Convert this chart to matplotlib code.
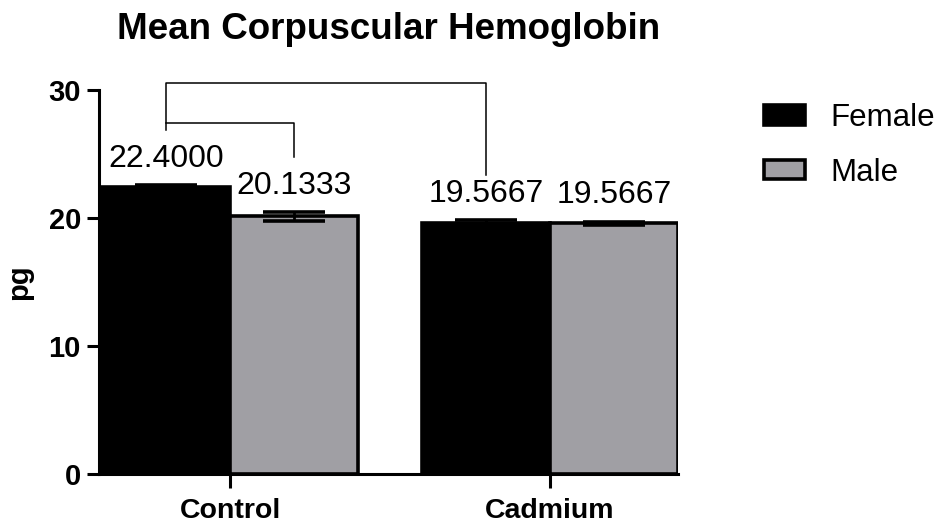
import numpy as np
import matplotlib.pyplot as plt

plt.rcParams['font.family'] = ['Liberation Sans', 'DejaVu Sans']

# data
groups = ["Control", "Cadmium"]
series = ["Female", "Male"]
female_vals = [22.4000, 19.5667]
male_vals = [20.1333, 19.5667]
female_err = [0.2, 0.3]
male_err = [0.35, 0.15]
colors = ["#000000", "#a09fa4"]

x = np.arange(len(groups))
w = 0.4

fig = plt.figure(figsize=(9.38, 5.29), dpi=100)
ax = fig.add_axes([0.1055, 0.104, 0.6173, 0.726])

vals = [female_vals, male_vals]
errs = [female_err, male_err]
offs = [-w / 2, w / 2]
for i in range(2):
    ax.bar(x + offs[i], vals[i], width=w, color=colors[i], edgecolor="black",
           linewidth=2.6, label=series[i], zorder=2)
    ax.errorbar(x + offs[i], vals[i], yerr=errs[i], fmt="none", ecolor="black",
                elinewidth=2, capsize=22.5, capthick=2.6, zorder=3)
    for xi, v, e in zip(x + offs[i], vals[i], errs[i]):
        ax.annotate(f"{v:.4f}", (xi, v + e), xytext=(0, 8), textcoords="offset points",
                    ha="center", va="bottom", fontsize=23)

# significance brackets
lw = 1.1
ax.plot([-0.2, -0.2, 0.8, 0.8], [26.9, 30.55, 30.55, 23.36], color="black",
        lw=lw, clip_on=False, zorder=4)
ax.plot([-0.2, 0.2, 0.2], [27.42, 27.42, 24.77], color="black",
        lw=lw, clip_on=False, zorder=4)

ax.set_xlim(-0.41, 1.40)
ax.set_ylim(0, 30)
ax.set_yticks([0, 10, 20, 30])
ax.set_xticks(x)
ax.set_xticklabels(groups, fontsize=20.5, fontweight="bold")
for lab in ax.get_yticklabels():
    lab.set_fontsize(21)
    lab.set_fontweight("bold")
ax.set_ylabel("pg", fontsize=21, fontweight="bold", labelpad=11)

ax.spines["top"].set_visible(False)
ax.spines["right"].set_visible(False)
ax.spines["left"].set_linewidth(2.2)
ax.spines["bottom"].set_linewidth(2.2)
ax.tick_params(axis="y", length=9, width=2.2, pad=4)
ax.tick_params(axis="x", length=10, width=2.2, pad=7)

fig.text(0.414, 0.945, "Mean Corpuscular Hemoglobin", ha="center", va="center",
         fontsize=26.5, fontweight="bold")

leg = ax.legend(loc="upper left", bbox_to_anchor=(0.815, 0.805), bbox_transform=fig.transFigure,
                frameon=False, fontsize=22.5, handlelength=1.3, handleheight=0.6,
                handletextpad=0.8, labelspacing=0.78, borderpad=0, borderaxespad=0)

fig.savefig("out.png", dpi=100)
